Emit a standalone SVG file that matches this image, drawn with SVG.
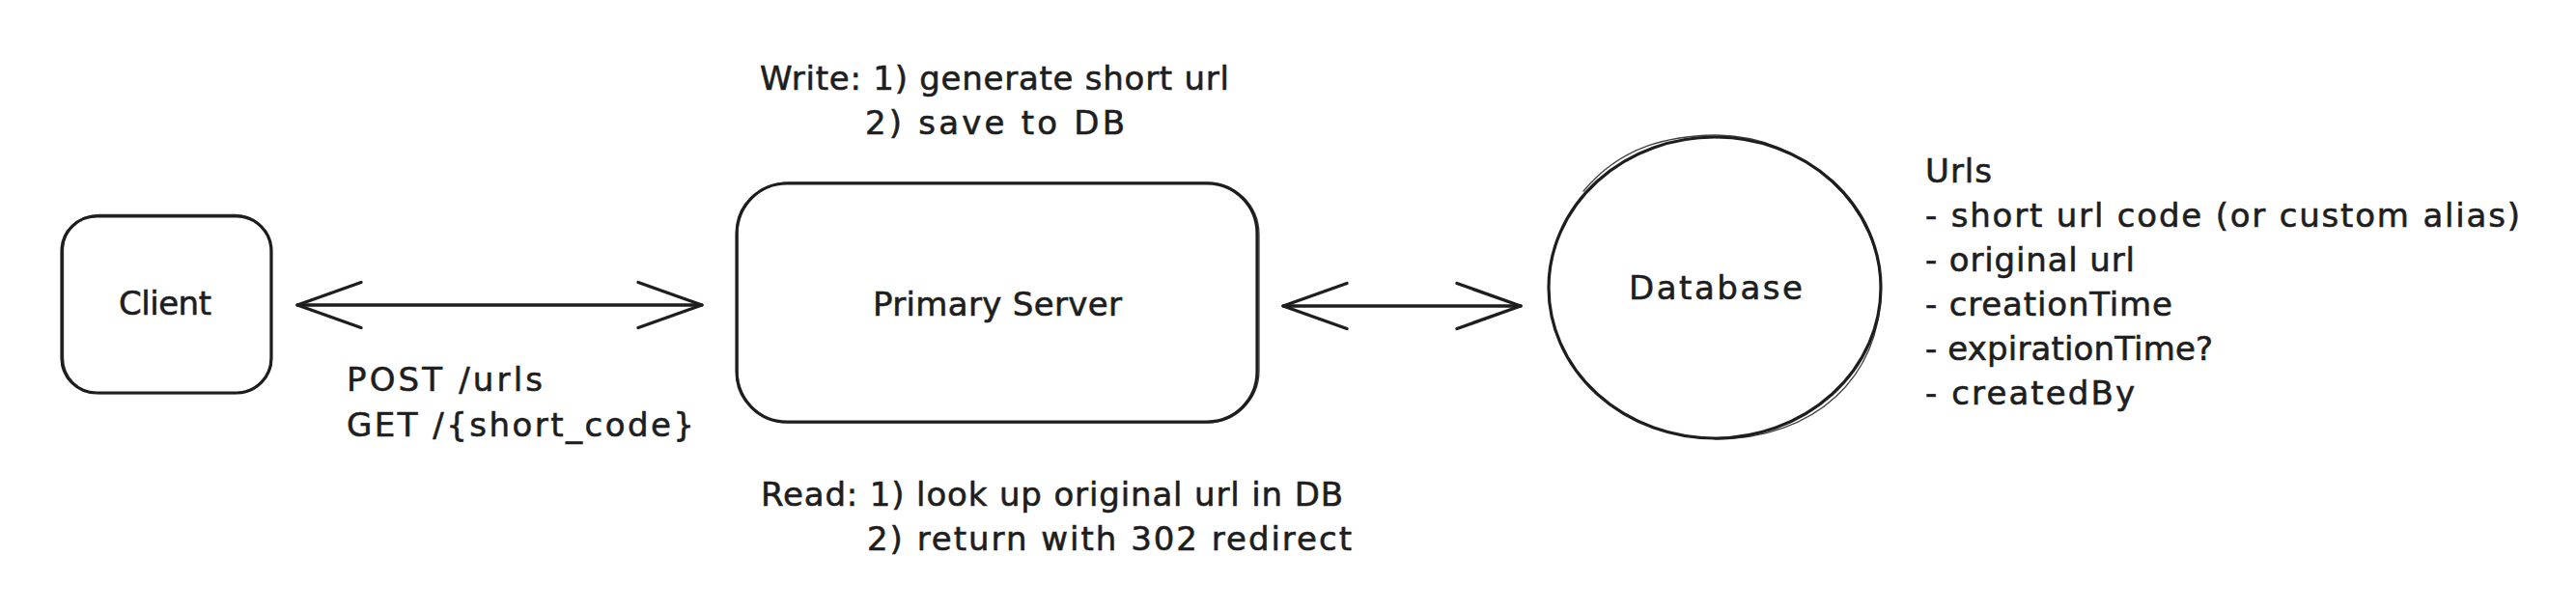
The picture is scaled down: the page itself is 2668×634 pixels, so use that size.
<svg xmlns="http://www.w3.org/2000/svg" width="2668" height="634" viewBox="0 0 2668 634">
  <style>
    .shape { fill: none; stroke: #1e1e1e; stroke-width: 3.2; stroke-linecap: round; stroke-linejoin: round; }
    .shape2 { fill: none; stroke: #1e1e1e; stroke-width: 1.3; stroke-linecap: round; opacity: 0.85; }
    .conn { fill: none; stroke: #1e1e1e; stroke-width: 3.4; stroke-linecap: round; }
    .t { font-family: "DejaVu Sans", "Liberation Sans", sans-serif; font-size: 34px; fill: #1e1e1e; stroke: #1e1e1e; stroke-width: 0.6; }
  </style>
  <defs>
    <marker id="open" viewBox="0 0 72 52" refX="69" refY="26" markerWidth="72" markerHeight="52" markerUnits="userSpaceOnUse" orient="auto-start-reverse" overflow="visible">
      <path d="M3,2.5 L69,26 L3,49.5" fill="none" stroke="#1e1e1e" stroke-width="3.4" stroke-linecap="round" stroke-linejoin="round"/>
    </marker>
  </defs>
  <rect width="2668" height="634" fill="#ffffff"/>

  <g id="client">
    <rect class="shape" x="64" y="224" width="217" height="183" rx="36"/>
    <rect class="shape2" x="65.5" y="222.5" width="215" height="185" rx="37"/>
    <text class="t" x="123" y="326" textLength="96">Client</text>
  </g>

  <g id="primary-server">
    <rect class="shape" x="763" y="190" width="539" height="247" rx="52"/>
    <rect class="shape2" x="764" y="189" width="540" height="249" rx="54"/>
    <text class="t" x="904" y="327" textLength="258">Primary Server</text>
  </g>

  <g id="database">
    <ellipse class="shape" cx="1776" cy="298" rx="172" ry="156"/>
    <path class="shape2" d="M1640,198 C1680,150 1730,141 1776,140 C1870,140 1948,215 1948,300 C1948,390 1880,455 1776,455"/>
    <text class="t" x="1687" y="310" textLength="180">Database</text>
  </g>

  <g id="write-note">
    <text class="t" x="787" y="93" textLength="486">Write: 1) generate short url</text>
    <text class="t" x="896" y="139" textLength="269">2) save to DB</text>
  </g>

  <g id="read-note">
    <text class="t" x="788" y="524" textLength="603">Read: 1) look up original url in DB</text>
    <text class="t" x="898" y="570" textLength="502">2) return with 302 redirect</text>
  </g>

  <g id="api-label">
    <text class="t" x="359" y="405" textLength="203">POST /urls</text>
    <text class="t" x="359" y="452" textLength="360">GET /{short_code}</text>
  </g>

  <g id="urls-schema">
    <text class="t" x="1994" y="189" textLength="69">Urls</text>
    <text class="t" x="1994" y="235" textLength="616">- short url code (or custom alias)</text>
    <text class="t" x="1994" y="281" textLength="217">- original url</text>
    <text class="t" x="1994" y="327" textLength="256">- creationTime</text>
    <text class="t" x="1994" y="373" textLength="298">- expirationTime?</text>
    <text class="t" x="1994" y="419" textLength="217">- createdBy</text>
  </g>

  <g id="connectors">
    <line class="conn" x1="308" y1="316" x2="727" y2="316" marker-start="url(#open)" marker-end="url(#open)"/>
    <line class="conn" x1="1329" y1="317" x2="1575" y2="317" marker-start="url(#open)" marker-end="url(#open)"/>
  </g>
</svg>
